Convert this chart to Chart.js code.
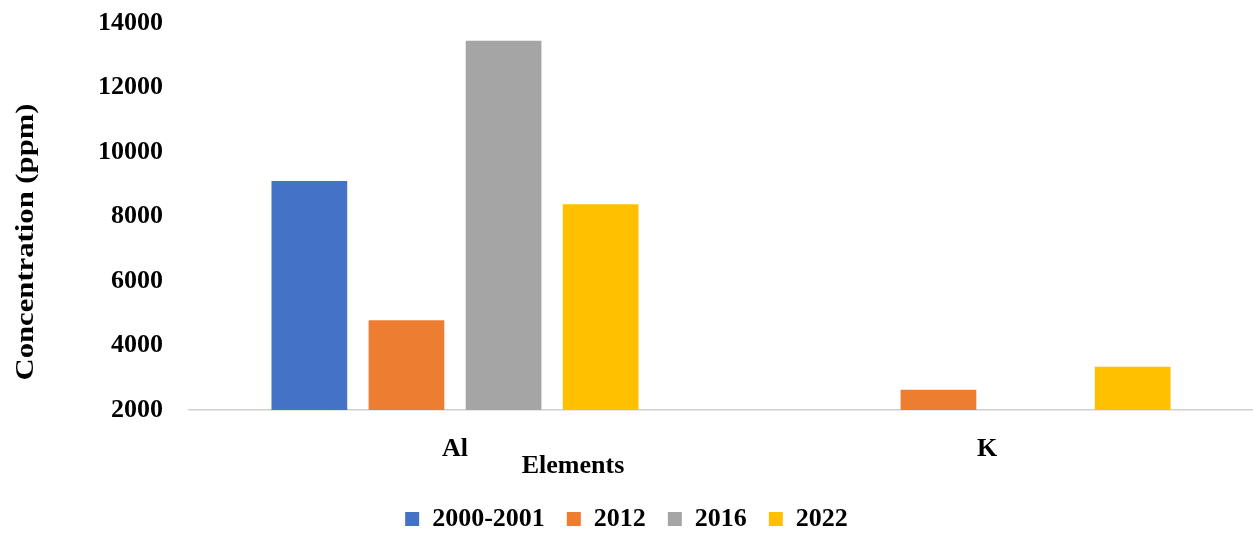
<!DOCTYPE html>
<html>
<head>
<meta charset="utf-8">
<script src="https://cdn.jsdelivr.net/npm/chart.js@4/dist/chart.umd.min.js"></script>
<style>
  html, body { margin: 0; padding: 0; background: #fff; }
  #wrap { width: 1253px; height: 542px; }
</style>
</head>
<body>
<div id="wrap"><canvas id="chart"></canvas></div>
<script>
// elements on the x axis
const elements = ["Al", "K"];

// concentration (ppm) per sampling year
const s2000 = [9100, null];
const s2012 = [4780, 2630];
const s2016 = [13450, null];
const s2022 = [8380, 3340];

const seriesNames = ["2000-2001", "2012", "2016", "2022"];
const seriesColors = ["#4472C4", "#ED7D31", "#A5A5A5", "#FFC000"];

const yTicks = { min: 2000, max: 14000, step: 2000 };

const FONT = "'Liberation Serif', 'Times New Roman', serif";

// axis titles drawn by hand so they sit where the original put them
const axisTitles = {
    id: 'axisTitles',
    afterDraw(chart) {
        const ctx = chart.ctx;
        ctx.save();
        ctx.fillStyle = '#000';
        ctx.font = 'bold 26px ' + FONT;
        ctx.textAlign = 'center';
        ctx.textBaseline = 'middle';
        ctx.fillText('Elements', 573, 466);

        ctx.translate(26, 242);
        ctx.rotate(-Math.PI / 2);
        ctx.scale(1.18, 1);
        ctx.fillText('Concentration (ppm)', 0, 0);
        ctx.restore();
    }
};

const datasets = [s2000, s2012, s2016, s2022].map((vals, i) => ({
    label: seriesNames[i],
    data: vals,
    backgroundColor: seriesColors[i],
    borderWidth: 0,
    categoryPercentage: 0.73,
    barPercentage: 0.78
}));

new Chart(document.getElementById('chart').getContext('2d'), {
    type: 'bar',
    data: { labels: elements, datasets: datasets },
    plugins: [axisTitles],
    options: {
        responsive: true,
        maintainAspectRatio: false,
        animation: false,
        layout: { padding: { top: 23, right: 0, left: 0, bottom: 0 } },
        plugins: {
            tooltip: { enabled: false },
            legend: {
                position: 'bottom',
                labels: {
                    color: '#000',
                    font: { family: FONT, size: 26, weight: 'bold' },
                    boxWidth: 14,
                    boxHeight: 14,
                    padding: 22
                }
            }
        },
        scales: {
            x: {
                grid: { display: false, drawTicks: false },
                border: { display: true, color: '#D0D0D0', width: 1.5 },
                ticks: {
                    color: '#000',
                    padding: 24,
                    font: { family: FONT, size: 26, weight: 'bold' }
                },
                afterFit: s => { s.height = 74; }
            },
            y: {
                min: yTicks.min,
                max: yTicks.max,
                grid: { display: false, drawTicks: false },
                border: { display: false },
                ticks: {
                    stepSize: yTicks.step,
                    color: '#000',
                    padding: 26,
                    font: { family: FONT, size: 26, weight: 'bold' },
                    callback: v => String(v)
                },
                afterFit: s => {
                    s.width = 189;
                    s.paddingTop = 0;
                    s.paddingBottom = 0;
                }
            }
        }
    }
});
</script>
</body>
</html>
